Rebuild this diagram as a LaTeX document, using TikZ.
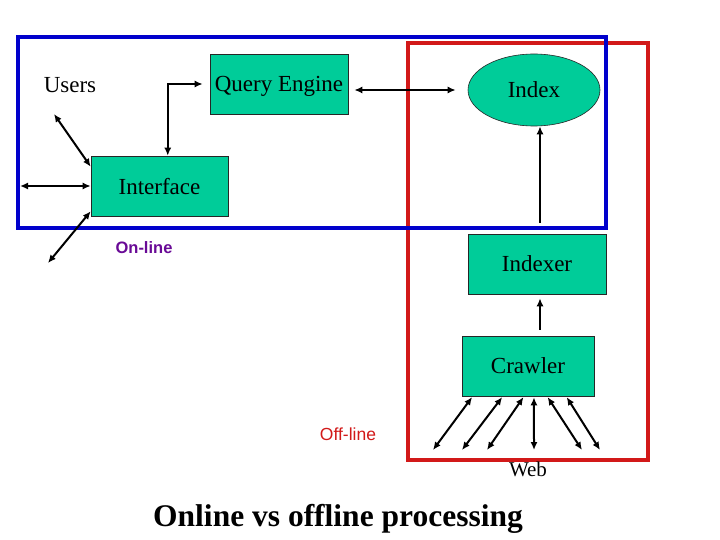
\documentclass[tikz,border=0pt]{standalone}
\usepackage{fontspec}
\setmainfont{Liberation Serif}
\newfontfamily\arialf{Liberation Sans}
\usetikzlibrary{arrows.meta,calc,shapes.geometric}
\definecolor{boxgreen}{RGB}{0,204,153}
\definecolor{onblue}{RGB}{0,0,204}
\definecolor{offred}{RGB}{210,25,25}
\definecolor{onpurple}{RGB}{105,10,150}
\begin{document}
\begin{tikzpicture}[x=1pt,y=-1pt,
  box/.style={draw=black!85, fill=boxgreen, line width=0.6pt, inner sep=0pt,
    text depth=0pt, font=\fontsize{23}{26}\selectfont},
  lbl/.style={inner sep=0pt, text depth=0pt, font=\fontsize{23}{26}\selectfont},
  arr/.style={-{Latex[length=8pt,width=7pt]}, line width=2pt},
  dbl/.style={{Latex[length=8pt,width=7pt]}-{Latex[length=8pt,width=7pt]}, line width=2pt},
  region/.style={line width=3.2pt}]
\useasboundingbox (0,0) rectangle (720,540);
\fill[white] (0,0) rectangle (720,540);

% regions
\draw[region, draw=offred] (408,43) rectangle (648,460);
\draw[region, draw=onblue] (18,37) rectangle (606,228);

% nodes
\node[box, minimum width=138pt, minimum height=60pt] (qe) at (279,84) {Query Engine};
\node[box, minimum width=137pt, minimum height=60pt] (ifc) at (159.5,186) {Interface};
\node[box, ellipse, minimum width=132pt, minimum height=72pt] (ix) at (534,90) {Index};
\node[box, minimum width=138pt, minimum height=60pt] (ixr) at (537,264) {Indexer};
\node[box, minimum width=132pt, minimum height=60pt] (cr) at (528,366) {Crawler};

\node[lbl] (users) at (70,85) {Users};
\node[lbl, font=\fontsize{21}{24}\selectfont] (web) at (528,469) {Web};
\node[inner sep=0pt, text depth=0pt, font=\arialf\bfseries\fontsize{16.5}{19}\selectfont, text=onpurple] (online) at (144,248) {On-line};
\node[inner sep=0pt, text depth=0pt, font=\arialf\fontsize{17.5}{20}\selectfont, text=offred] (offline) at (348,434) {Off-line};
\node[inner sep=0pt, font=\bfseries\fontsize{31.5}{36}\selectfont] (title) at (338,519) {Online vs offline processing};

% free ends
\coordinate (u1) at (54,114);
\coordinate (u2) at (20,186);
\coordinate (u3) at (48,263);
\coordinate (w1) at (433,450);
\coordinate (w2) at (462,450);
\coordinate (w3) at (487,450);
\coordinate (w4) at (534,450);
\coordinate (w5) at (582,450);
\coordinate (w6) at (600,450);

% connectors
\draw[dbl] (u1) -- ($(ifc.north west)+(0,11)$);
\draw[dbl] (u2) -- (ifc.west);
\draw[dbl] (u3) -- ($(ifc.south west)+(0,-5)$);
\draw[dbl, shorten >=7pt] ($(ifc.north west)!0.56!(ifc.north east)$) |- (qe.west);
\draw[dbl, shorten <=6pt, shorten >=12pt] (qe.east |- ix.west) -- (ix.west);
\draw[arr, shorten <=11pt] ($(ixr.north)+(3,0)$) -- (ix.south -| 540,0);
\draw[arr, shorten <=6pt, shorten >=4pt] (cr.north -| 540,0) -- ($(ixr.south)+(3,0)$);

\draw[dbl, shorten <=1pt] ($(cr.south west)!0.083!(cr.south east)$) -- (w1);
\draw[dbl, shorten <=1pt] ($(cr.south west)!0.31!(cr.south east)$) -- (w2);
\draw[dbl, shorten <=1pt] ($(cr.south west)!0.47!(cr.south east)$) -- (w3);
\draw[dbl, shorten <=1pt] ($(cr.south west)!0.545!(cr.south east)$) -- (w4);
\draw[dbl, shorten <=1pt] ($(cr.south west)!0.644!(cr.south east)$) -- (w5);
\draw[dbl, shorten <=1pt] ($(cr.south west)!0.788!(cr.south east)$) -- (w6);
\end{tikzpicture}
\end{document}
